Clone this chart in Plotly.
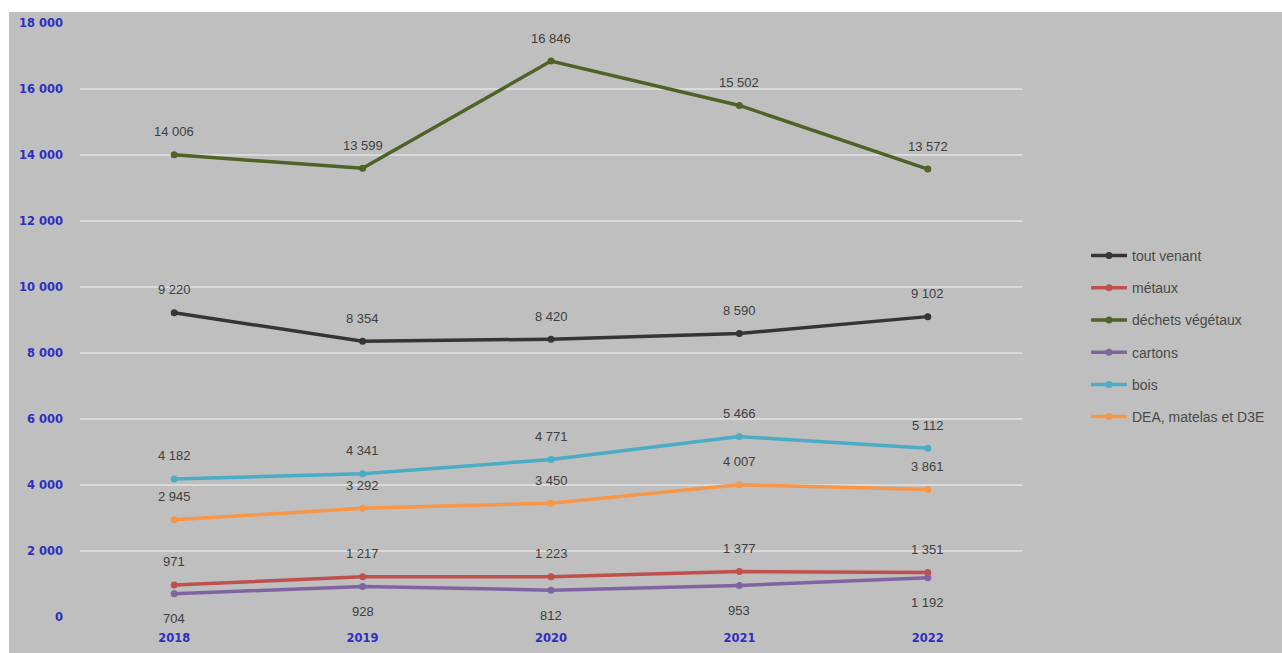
import plotly.graph_objects as go

years = ["2018", "2019", "2020", "2021", "2022"]
series_names = ["tout venant", "métaux", "déchets végétaux", "cartons", "bois", "DEA, matelas et D3E"]
tout_venant = [9220, 8354, 8420, 8590, 9102]
metaux = [971, 1217, 1223, 1377, 1351]
dechets_vegetaux = [14006, 13599, 16846, 15502, 13572]
cartons = [704, 928, 812, 953, 1192]
bois = [4182, 4341, 4771, 5466, 5112]
dea = [2945, 3292, 3450, 4007, 3861]
y_ticks = [0, 2000, 4000, 6000, 8000, 10000, 12000, 14000, 16000, 18000]

values = [tout_venant, metaux, dechets_vegetaux, cartons, bois, dea]
colors = ["#353535", "#c0504d", "#4f6228", "#8064a2", "#4bacc6", "#f79646"]
label_shift = [23, 23, 23, -25, 23, 23]

x_idx = list(range(len(years)))

def fmt(v):
    return f"{v:,}".replace(",", " ")

fig = go.Figure()
annotations = []
for i, (name, vals, col) in enumerate(zip(series_names, values, colors)):
    fig.add_trace(go.Scatter(
        x=x_idx, y=vals, name=name, mode="lines+markers",
        line=dict(color=col, width=3.5),
        marker=dict(color=col, size=7),
        legendgroup=name,
    ))
    for x, v in zip(x_idx, vals):
        annotations.append(dict(
            x=x, y=v, text=fmt(v), showarrow=False, yshift=label_shift[i],
            font=dict(family="Liberation Sans, Arial", size=13, color="#404040"),
        ))

L, R, T, B = 80, 260, 23, 36
W, H = 1282, 653
pw, ph = W - L - R, H - T - B

shapes = [
    dict(type="rect", xref="paper", yref="paper",
         x0=(0 - L) / pw, x1=(W - L) / pw,
         y0=(H - B - 12) / ph, y1=(H - B) / ph,
         fillcolor="white", line=dict(width=0), layer="above"),
    dict(type="rect", xref="paper", yref="paper",
         x0=(0 - L) / pw, x1=(9 - L) / pw,
         y0=-B / ph, y1=(H - B) / ph,
         fillcolor="white", line=dict(width=0), layer="above"),
]

tick_font = dict(family="DejaVu Sans, Liberation Sans", size=11.5, color="#2e2ec0", weight="bold")

fig.update_layout(
    width=W, height=H, autosize=False,
    margin=dict(l=L, r=R, t=T, b=B, autoexpand=False),
    paper_bgcolor="#bfbfbf",
    plot_bgcolor="#bfbfbf",
    showlegend=True,
    legend=dict(
        xref="container", yref="container",
        x=1086 / W, y=1 - 240 / H, xanchor="left", yanchor="top",
        font=dict(family="Liberation Sans, Arial", size=14, color="#4a4a4a"),
        tracegroupgap=11, itemwidth=36, bgcolor="rgba(0,0,0,0)",
    ),
    xaxis=dict(
        range=[-0.5, len(years) - 0.5], tickvals=x_idx, ticktext=years,
        showgrid=False, zeroline=False, showline=False, automargin=False,
        tickfont=tick_font, ticks="", ticklabelstandoff=12,
    ),
    yaxis=dict(
        range=[0, 18000], tickvals=y_ticks, ticktext=[fmt(v) for v in y_ticks],
        showgrid=True, gridcolor="#dadada", gridwidth=1.5, zeroline=False, showline=False,
        automargin=False, tickfont=tick_font, ticks="", ticklabelstandoff=16,
    ),
    annotations=annotations,
    shapes=shapes,
)

fig.write_html("out.html", config={"displayModeBar": False, "responsive": False},
               post_script="document.body.style.margin='0';document.body.style.overflow='hidden';")
